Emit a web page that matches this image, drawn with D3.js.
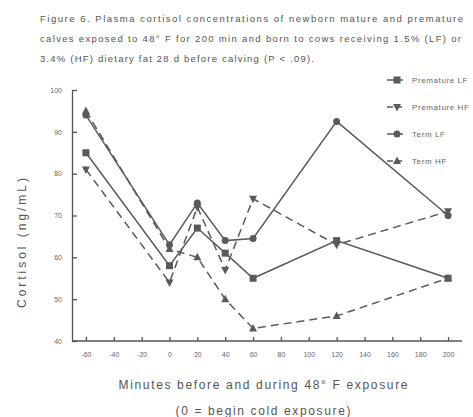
<!DOCTYPE html>
<meta charset="utf-8">
<title>Figure 6 - Plasma cortisol</title>
<style>
body { margin: 0; background: #fff; }
svg { font-family: "Liberation Sans", Arial, sans-serif; }
.title { font-size: 9.5px; fill: #555; }
.axis text { font-size: 7px; fill: #666; }
.axis path, .axis line { stroke: #555; stroke-width: 1.3px; }
.ylabel { font-size: 12px; fill: #555; }
.xlabel { font-size: 12px; fill: #555; }
.legend text { font-size: 8px; fill: #666; letter-spacing: 0.6px; }
.series path.line { fill: none; stroke: #5a5a5a; stroke-width: 1.5px; }
.series .dashed { stroke-dasharray: 8,5; }
.marker { fill: #5a5a5a; }
</style>
<body>
<script src="https://cdn.jsdelivr.net/npm/d3@7"></script>
<script>

var minutes = [-60, 0, 20, 40, 60, 120, 200];
var prematureLF = [85, 58, 67, 61, 55, 64, 55];
var prematureHF = [81, 54, 72, 57, 74, 63, 71];
var termLF = [94, 63, 73, 64, 64.5, 92.5, 70];
var termHF = [95, 62, 60, 50, 43, 46, 55];

var xTicks = [-60, -40, -20, 0, 20, 40, 60, 80, 100, 120, 140, 160, 180, 200];
var yTicks = [40, 50, 60, 70, 80, 90, 100];

var titleLines = [
  "Figure 6.  Plasma cortisol concentrations of newborn mature and premature",
  "calves exposed to 48\u00b0 F for 200 min and born to cows receiving 1.5% (LF) or",
  "3.4% (HF) dietary fat 28 d before calving (P < .09)."
];
var titleWidths = [423, 421, 274];

var series = [
  {name: "Premature LF", values: prematureLF, dashed: false, symbol: "square"},
  {name: "Premature HF", values: prematureHF, dashed: true, symbol: "down"},
  {name: "Term LF", values: termLF, dashed: false, symbol: "circle"},
  {name: "Term HF", values: termHF, dashed: true, symbol: "up"}
];

var width = 473, height = 417;

var svg = d3.select("body").append("svg")
    .attr("width", width)
    .attr("height", height);

var x = d3.scaleLinear().domain([-70, 210]).range([72, 462]);
var y = d3.scaleLinear().domain([40, 100]).range([341, 90]);

// title block, stretched to the widths of the scanned caption
svg.selectAll(".title")
    .data(titleLines)
  .enter().append("text")
    .attr("class", "title")
    .attr("x", 40)
    .attr("y", function(d, i) { return 22 + i * 20; })
    .attr("textLength", function(d, i) { return titleWidths[i]; })
    .attr("lengthAdjust", "spacing")
    .text(function(d) { return d; });

// axes
svg.append("g")
    .attr("class", "axis x")
    .attr("transform", "translate(0," + y(40) + ")")
    .call(d3.axisBottom(x).tickValues(xTicks).tickFormat(function(d) { return String(d); })
        .tickSizeInner(-4).tickSizeOuter(0).tickPadding(11))
    .call(function(g) { g.select(".domain").attr("d", "M" + x(-70) + ",0H" + x(210)); });

svg.append("g")
    .attr("class", "axis y")
    .attr("transform", "translate(" + x(-70) + ",0)")
    .call(d3.axisLeft(y).tickValues(yTicks).tickSizeInner(-5).tickSizeOuter(0).tickPadding(10));

svg.append("text")
    .attr("class", "ylabel")
    .attr("transform", "translate(26,243) rotate(-90)")
    .attr("text-anchor", "middle")
    .attr("textLength", 130)
    .attr("lengthAdjust", "spacing")
    .text("Cortisol (ng/mL)");

svg.append("text")
    .attr("class", "xlabel")
    .attr("x", 263)
    .attr("y", 389)
    .attr("text-anchor", "middle")
    .attr("textLength", 289)
    .attr("lengthAdjust", "spacing")
    .text("Minutes before and during 48\u00b0 F exposure");

svg.append("text")
    .attr("class", "xlabel")
    .attr("x", 263)
    .attr("y", 415)
    .attr("text-anchor", "middle")
    .attr("textLength", 175)
    .attr("lengthAdjust", "spacing")
    .text("(0 = begin cold exposure)");

var line = d3.line()
    .x(function(d) { return x(d[0]); })
    .y(function(d) { return y(d[1]); });

function drawMarker(g, symbol, cx, cy) {
  if (symbol === "square") {
    g.append("rect").attr("class", "marker")
      .attr("x", cx - 3.5).attr("y", cy - 3.5).attr("width", 7).attr("height", 7);
  } else if (symbol === "circle") {
    g.append("circle").attr("class", "marker").attr("cx", cx).attr("cy", cy).attr("r", 3.5);
  } else if (symbol === "up") {
    g.append("path").attr("class", "marker")
      .attr("d", "M" + cx + "," + (cy - 4.5) + "L" + (cx + 4) + "," + (cy + 3) + "L" + (cx - 4) + "," + (cy + 3) + "Z");
  } else {
    g.append("path").attr("class", "marker")
      .attr("d", "M" + cx + "," + (cy + 4.5) + "L" + (cx + 4) + "," + (cy - 3) + "L" + (cx - 4) + "," + (cy - 3) + "Z");
  }
}

series.forEach(function(s) {
  var pts = minutes.map(function(m, i) { return [m, s.values[i]]; });
  var g = svg.append("g").attr("class", "series");
  g.append("path")
      .attr("class", "line" + (s.dashed ? " dashed" : ""))
      .attr("d", line(pts));
  pts.forEach(function(p) { drawMarker(g, s.symbol, x(p[0]), y(p[1])); });
});

// legend
var legendY = [80, 107, 134, 161];
var legend = svg.append("g").attr("class", "legend series");
series.forEach(function(s, i) {
  var ly = legendY[i];
  legend.append("path")
      .attr("class", "line" + (s.dashed ? " dashed" : ""))
      .style("stroke-dasharray", s.dashed ? "6,3" : null)
      .attr("d", "M387," + ly + "H403");
  drawMarker(legend, s.symbol, 397, ly);
  legend.append("text")
      .attr("x", 412)
      .attr("y", ly + 3)
      .text(s.name);
});

</script>
</body>
